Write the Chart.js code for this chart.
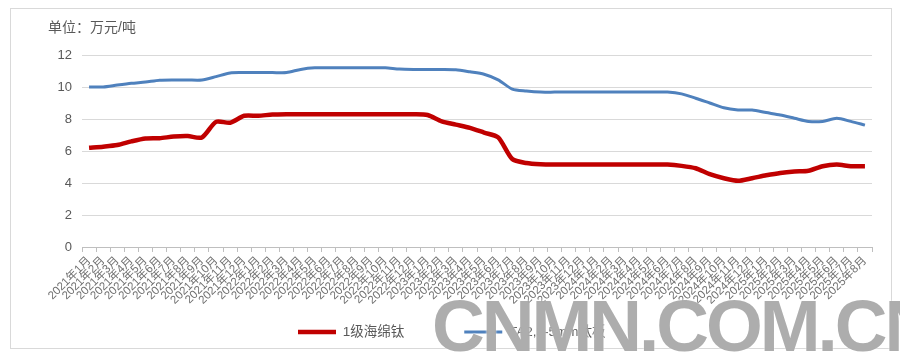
<!DOCTYPE html>
<html>
<head>
<meta charset="utf-8">
<script src="https://cdn.jsdelivr.net/npm/chart.js@4.4.1/dist/chart.umd.min.js"></script>
<style>
  html, body { margin: 0; padding: 0; background: #fff; }
  #wrap { position: relative; width: 900px; height: 358px; overflow: hidden; }
  #frame { position: absolute; left: 10px; top: 8px; width: 882px; height: 341px; border: 1px solid #d9d9d9; box-sizing: border-box; }
  canvas { position: absolute; left: 0; top: 0; }
  #wm { position: absolute; left: 432px; top: 289px; font: bold 73px "Liberation Sans", Arial, sans-serif; line-height: 73px; letter-spacing: -3px; color: rgba(150,150,150,0.78); white-space: nowrap; text-shadow: 0 0 2px #fff; pointer-events: none; }
</style>
</head>
<body>
<div id="wrap">
  <div id="frame"></div>
  <canvas id="c" width="900" height="358"></canvas>
  <div id="wm">CNMN.COM.CN</div>
</div>
<script>
const categories = [
  "2021年1月","2021年2月","2021年3月","2021年4月","2021年5月","2021年6月","2021年7月","2021年8月","2021年9月","2021年10月","2021年11月","2021年12月",
  "2022年1月","2022年2月","2022年3月","2022年4月","2022年5月","2022年6月","2022年7月","2022年8月","2022年9月","2022年10月","2022年11月","2022年12月",
  "2023年1月","2023年2月","2023年3月","2023年4月","2023年5月","2023年6月","2023年7月","2023年8月","2023年9月","2023年10月","2023年11月","2023年12月",
  "2024年1月","2024年2月","2024年3月","2024年4月","2024年5月","2024年6月","2024年7月","2024年8月","2024年9月","2024年10月","2024年11月","2024年12月",
  "2025年1月","2025年2月","2025年3月","2025年4月","2025年5月","2025年6月","2025年7月","2025年8月"
];
const spongeTitanium = [
  6.2, 6.27, 6.37, 6.6, 6.78, 6.8, 6.9, 6.93, 6.85, 7.82, 7.77, 8.2,
  8.2, 8.28, 8.3, 8.3, 8.3, 8.3, 8.3, 8.3, 8.3, 8.3, 8.3, 8.3,
  8.25, 7.85, 7.65, 7.45, 7.15, 6.85, 5.5, 5.25, 5.17, 5.15, 5.15, 5.15,
  5.15, 5.15, 5.15, 5.15, 5.15, 5.15, 5.07, 4.92, 4.55, 4.3, 4.14, 4.3,
  4.48, 4.63, 4.72, 4.77, 5.05, 5.15, 5.05, 5.05
];
const titaniumPlate = [
  10.0, 10.0, 10.12, 10.23, 10.31, 10.42, 10.44, 10.44, 10.44, 10.65, 10.88, 10.9,
  10.9, 10.9, 10.9, 11.1, 11.2, 11.2, 11.2, 11.2, 11.2, 11.2, 11.12, 11.1,
  11.1, 11.1, 11.08, 10.95, 10.8, 10.45, 9.87, 9.75, 9.68, 9.68, 9.68, 9.68,
  9.68, 9.68, 9.68, 9.68, 9.68, 9.68, 9.57, 9.3, 9.0, 8.7, 8.57, 8.56,
  8.4, 8.25, 8.05, 7.85, 7.85, 8.04, 7.85, 7.62
];
const seriesNames = ["1级海绵钛", "TA2,3-5mm钛板"];
const yTicks = [0, 2, 4, 6, 8, 10, 12];
const unitTitle = "单位：万元/吨";

const FONT = '"Liberation Sans", "Noto Sans CJK SC", sans-serif';
const TXT = '#595959';
const LEGEND_PAD = 60;
const LEGEND_FONT = 13.5;

// Keep the legend compact and place it where the reference has it.
const legendPlacer = {
  id: 'legendPlacer',
  afterInit(chart) {
    const lg = chart.legend;
    if (!lg) return;
    const origFit = lg.fit.bind(lg);
    lg.fit = function () { origFit(); this.height = 22; };
  },
  afterLayout(chart) {
    const lg = chart.legend;
    if (!lg || !lg.lineWidths) return;
    const targetTextY = 332;
    const newTop = targetTextY - LEGEND_FONT / 2 - LEGEND_PAD;
    lg.top = newTop;
    lg.bottom = newTop + LEGEND_PAD + LEGEND_FONT + 10;
    lg.height = lg.bottom - lg.top;
    const curX = (lg.left + LEGEND_PAD + lg.right - lg.lineWidths[0]) / 2;
    const dx = 298 - curX;
    lg.left += dx; lg.right += dx;
  }
};

new Chart(document.getElementById('c'), {
  type: 'line',
  data: {
    labels: categories,
    datasets: [
      { label: seriesNames[0], data: spongeTitanium, borderColor: '#c00000', backgroundColor: '#c00000', borderWidth: 4.5, pointRadius: 0, tension: 0.25, fill: false },
      { label: seriesNames[1], data: titaniumPlate, borderColor: '#4f81bd', backgroundColor: '#4f81bd', borderWidth: 3, pointRadius: 0, tension: 0.25, fill: false }
    ]
  },
  plugins: [legendPlacer],
  options: {
    responsive: false,
    animation: false,
    devicePixelRatio: 1,
    layout: { padding: { left: 48, right: 28, top: 20, bottom: 24 } },
    plugins: {
      title: {
        display: true, text: unitTitle, align: 'start', color: TXT,
        font: { family: FONT, size: 14, weight: 'normal' },
        padding: { top: 0, bottom: 18.2 }
      },
      legend: {
        display: true, position: 'bottom', align: 'center',
        labels: {
          usePointStyle: true, pointStyle: 'line', pointStyleWidth: 38,
          color: TXT, font: { family: FONT, size: LEGEND_FONT }, padding: LEGEND_PAD
        }
      },
      tooltip: { enabled: false }
    },
    scales: {
      x: {
        type: 'category',
        offset: true,
        afterFit: (s) => { s.height = 65; },
        grid: { display: true, drawOnChartArea: false, drawTicks: true, tickLength: 5, color: '#bfbfbf', offset: true },
        border: { display: true, color: '#bfbfbf', width: 1 },
        ticks: { autoSkip: false, minRotation: 45, maxRotation: 45, color: '#6f6f6f', font: { family: FONT, size: 11.5 }, padding: 2 }
      },
      y: {
        min: 0, max: 12,
        afterFit: (s) => { s.width = 34; },
        afterBuildTicks: (s) => { s.ticks = yTicks.map(v => ({ value: v })); },
        grid: { color: '#d9d9d9', drawTicks: false, lineWidth: 1 },
        border: { display: false },
        ticks: { color: TXT, font: { family: FONT, size: 13 }, padding: 10 }
      }
    }
  }
});
</script>
</body>
</html>
